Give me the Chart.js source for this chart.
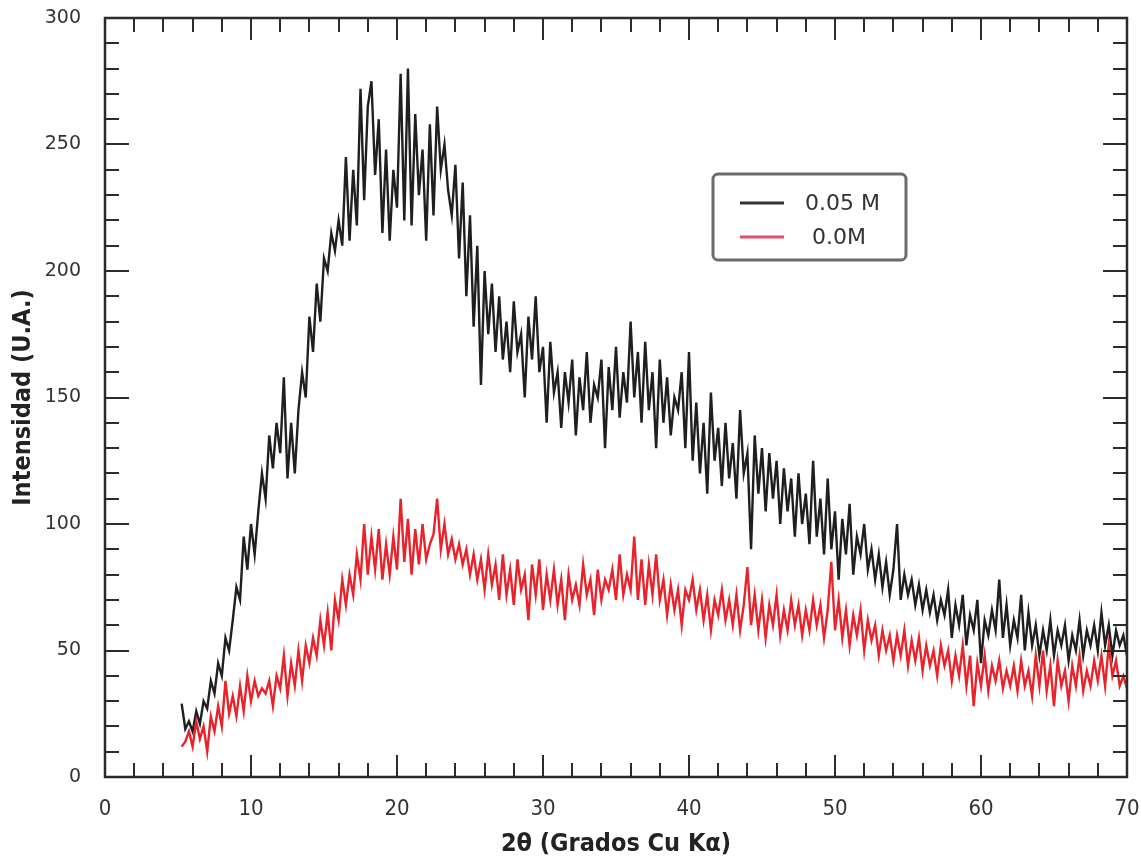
<!DOCTYPE html>
<html>
<head>
<meta charset="utf-8">
<script src="https://cdn.jsdelivr.net/npm/chart.js@4.4.1/dist/chart.umd.min.js"></script>
<style>
  html, body { margin: 0; padding: 0; background: #fff; }
  canvas { display: block; }
</style>
</head>
<body>
<canvas id="xrd" width="1141" height="860"></canvas>
<script>
// 2θ sampling grid (degrees), 5.25 .. 70 every 0.25
const thetaStart = 5.25;
const thetaStep = 0.25;

// Intensidad, 0.05 M (black)
const int005 = [
  29, 19, 22,
  18, 26, 21, 30,
  27, 38, 33, 45,
  40, 55, 50, 62,
  75, 70, 95, 82,
  100, 88, 105, 120,
  110, 135, 122, 140,
  128, 158, 118, 140,
  120, 145, 160, 150,
  182, 168, 195, 180,
  205, 200, 215, 208,
  220, 210, 245, 212,
  240, 218, 272, 228,
  265, 275, 238, 260,
  215, 248, 212, 240,
  225, 278, 220, 280,
  218, 262, 230, 248,
  212, 258, 222, 265,
  240, 250, 232, 222,
  242, 205, 235, 190,
  222, 178, 210, 155,
  200, 175, 195, 168,
  190, 165, 180, 160,
  188, 168, 175, 150,
  182, 165, 190, 160,
  170, 140, 172, 152,
  160, 138, 160, 148,
  165, 135, 158, 145,
  168, 140, 155, 150,
  165, 130, 162, 145,
  170, 142, 160, 148,
  180, 150, 168, 140,
  172, 145, 160, 130,
  165, 140, 158, 135,
  150, 145, 160, 130,
  168, 125, 148, 120,
  140, 112, 152, 125,
  138, 115, 140, 118,
  132, 110, 145, 120,
  128, 90, 135, 112,
  130, 105, 128, 110,
  125, 100, 122, 105,
  118, 95, 120, 100,
  112, 92, 125, 95,
  110, 88, 118, 90,
  105, 78, 102, 88,
  108, 80, 95, 88,
  100, 82, 90, 78,
  88, 75, 85, 72,
  82, 100, 70, 80,
  72, 78, 68, 76,
  66, 74, 65, 72,
  62, 70, 64, 74,
  55, 68, 60, 72,
  52, 64, 58, 70,
  45, 62, 56, 66,
  58, 78, 55, 68,
  52, 62, 55, 72,
  50, 65, 52, 60,
  48, 58, 50, 62,
  48, 58, 52, 60,
  46, 56, 50, 62,
  48, 58, 52, 60,
  50, 65, 52, 60,
  48, 58, 52, 56,
  48
];

// Intensidad, 0.0M (red)
const int000 = [
  12, 14, 18,
  12, 22, 15, 20,
  10, 24, 18, 28,
  20, 38, 25, 32,
  24, 36, 26, 40,
  30, 38, 32, 35,
  33, 38, 28, 40,
  35, 48, 32, 45,
  36, 50, 38, 52,
  45, 55, 48, 62,
  52, 65, 50, 70,
  62, 78, 68, 80,
  72, 88, 78, 100,
  80, 95, 82, 98,
  78, 92, 80, 95,
  82, 110, 85, 102,
  80, 98, 84, 100,
  86, 92, 96, 110,
  90, 100, 88, 94,
  86, 92, 84, 90,
  80, 88, 78, 86,
  74, 88, 76, 84,
  70, 88, 72, 82,
  68, 86, 74, 80,
  62, 84, 72, 86,
  66, 80, 70, 82,
  68, 78, 62, 80,
  70, 76, 68, 84,
  72, 78, 64, 82,
  70, 78, 74, 82,
  70, 88, 72, 80,
  74, 95, 70, 86,
  68, 84, 72, 88,
  70, 78, 64, 76,
  66, 74, 60, 74,
  70, 78, 66, 74,
  62, 72, 58, 70,
  64, 74, 62, 70,
  60, 72, 58, 68,
  83, 60, 72, 58,
  70, 55, 68, 60,
  72, 56, 66, 58,
  70, 60, 68, 56,
  66, 58, 70, 60,
  68, 55, 66, 85,
  58, 70, 55, 66,
  52, 64, 56, 66,
  50, 62, 54, 60,
  48, 58, 50, 56,
  46, 56, 48, 58,
  44, 54, 46, 55,
  42, 52, 44, 50,
  40, 52, 44, 50,
  38, 48, 40, 52,
  36, 48, 28, 45,
  36, 48, 34, 44,
  38, 46, 35, 42,
  36, 44, 34, 46,
  36, 42, 32, 48,
  36, 50, 34, 44,
  28, 46, 36, 42,
  30, 44, 36, 48,
  34, 42, 36, 46,
  38, 48, 36, 52,
  40, 46, 36, 40,
  35
];

const seriesLabels = ['0.05 M', '0.0M'];
const xTitle = '2\u03B8 (Grados Cu K\u03B1)';
const yTitle = 'Intensidad (U.A.)';

const narrow = '"DejaVu Sans Condensed", "Liberation Sans", sans-serif';

const theta = int005.map((_, i) => thetaStart + i * thetaStep);
const toPoints = arr => arr.map((v, i) => ({ x: theta[i], y: v }));

// keep the tick padding from pushing the plot box inward
function noEdgePadding(s) {
  s.paddingTop = 0; s.paddingBottom = 0; s.paddingLeft = 0; s.paddingRight = 0;
}

// inward ticks on all four sides + frame
const frameTicks = {
  id: 'frameTicks',
  afterDatasetsDraw(chart) {
    const { ctx, chartArea: a, scales: { x, y } } = chart;
    ctx.save();
    ctx.strokeStyle = '#2b2b2b';
    ctx.lineWidth = 2;
    ctx.beginPath();
    for (let v = x.min; v <= x.max + 1e-6; v += 2) {
      const px = Math.round(x.getPixelForValue(v));
      const len = v % 10 === 0 ? 22 : 14;
      ctx.moveTo(px, a.bottom); ctx.lineTo(px, a.bottom - len);
      ctx.moveTo(px, a.top); ctx.lineTo(px, a.top + len);
    }
    for (let v = y.min; v <= y.max + 1e-6; v += 10) {
      const py = Math.round(y.getPixelForValue(v));
      const len = v % 50 === 0 ? 24 : 14;
      ctx.moveTo(a.left, py); ctx.lineTo(a.left + len, py);
      ctx.moveTo(a.right, py); ctx.lineTo(a.right - len, py);
    }
    ctx.stroke();
    ctx.lineWidth = 2.5;
    ctx.strokeRect(a.left, a.top, a.width, a.height);
    ctx.restore();
  }
};

// legend box inside the plot
const boxLegend = {
  id: 'boxLegend',
  afterDraw(chart) {
    const { ctx } = chart;
    const bx = 713, by = 174, bw = 193, bh = 86;
    ctx.save();
    ctx.strokeStyle = '#6b6b6b';
    ctx.lineWidth = 3;
    ctx.beginPath();
    ctx.roundRect(bx, by, bw, bh, 5);
    ctx.stroke();
    ctx.font = '22px "DejaVu Sans"';
    ctx.fillStyle = '#333';
    ctx.textBaseline = 'middle';
    const rows = [{ y: 203, tx: 805 }, { y: 237, tx: 812 }];
    chart.data.datasets.forEach((ds, i) => {
      const r = rows[i];
      ctx.strokeStyle = i === 0 ? '#333' : '#e0506a';
      ctx.lineWidth = 3;
      ctx.beginPath();
      ctx.moveTo(740, r.y); ctx.lineTo(784, r.y);
      ctx.stroke();
      ctx.fillText(ds.label, r.tx, r.y + 1);
    });
    ctx.restore();
  }
};

new Chart(document.getElementById('xrd'), {
  type: 'line',
  data: {
    datasets: [
      { label: seriesLabels[0], data: toPoints(int005), borderColor: '#1f1f1f', borderWidth: 2.4, pointRadius: 0, order: 1 },
      { label: seriesLabels[1], data: toPoints(int000), borderColor: '#e8232b', borderWidth: 2.4, pointRadius: 0, order: 0 }
    ]
  },
  options: {
    responsive: false,
    animation: false,
    devicePixelRatio: 1,
    layout: { padding: { top: 18, right: 14, left: 0, bottom: 0 } },
    plugins: { legend: { display: false }, tooltip: { enabled: false } },
    elements: { line: { tension: 0 } },
    scales: {
      x: {
        type: 'linear', min: 0, max: 70,
        grid: { display: false, drawTicks: false },
        border: { display: false },
        ticks: { stepSize: 10, padding: 19, color: '#333', font: { family: narrow, size: 22 } },
        title: { display: true, text: xTitle, color: '#222', padding: { top: 0, bottom: 1 },
                 font: { family: narrow, size: 25, weight: 'bold' } },
        afterFit(s) { s.height = 83; noEdgePadding(s); }
      },
      y: {
        min: 0, max: 300,
        grid: { display: false, drawTicks: false },
        border: { display: false },
        ticks: { stepSize: 50, padding: 24, color: '#333', font: { family: 'DejaVu Sans', size: 19 } },
        title: { display: true, text: yTitle, color: '#222', padding: { top: 8, bottom: 0 },
                 font: { family: narrow, size: 25, weight: 'bold' } },
        afterFit(s) { s.width = 105; noEdgePadding(s); }
      }
    }
  },
  plugins: [frameTicks, boxLegend]
});
</script>
</body>
</html>
